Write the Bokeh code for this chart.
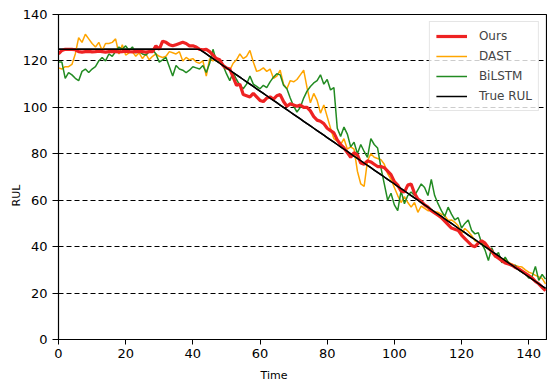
from bokeh.plotting import figure
from bokeh.models import Legend, LegendItem, Title, Range1d, FixedTicker
from bokeh.embed import file_html
from bokeh.resources import INLINE

time = list(range(0, 146))

true_rul = [min(125, 167 - t) for t in time]

ours = [123, 124.5, 125, 125, 125, 124.8, 124, 123.8, 124, 124.1,
        123.9, 124, 124.2, 124, 123.8, 124, 124.1, 124, 123.9, 124,
        124.2, 124, 123.9, 124, 124.1, 124, 123.8, 124, 124, 126.5,
        125, 128.5, 128, 127, 126.5, 127, 127.5, 128, 127.5, 126.5,
        126.5, 126, 125, 124.8, 125, 124, 122.5, 121, 120.5, 118,
        117, 116.5, 113, 109.5, 110, 105.5, 105, 104.5, 106, 104.5,
        103, 102.5, 104, 104.5, 103.5, 105, 105.5, 102.5, 100.5, 101.5,
        101, 100.5, 101, 100, 100, 98.5, 96, 94.5, 94, 93,
        91, 90, 89, 86, 84, 82.5, 80.5, 78.5, 80.5, 79.5,
        76, 75.5, 77, 76.5, 75.5, 74.5, 74.5, 74, 72.5, 71,
        68, 66.5, 64, 63.5, 66.5, 67, 63, 60.5, 59.5, 58,
        57, 55.5, 54.5, 53.5, 52.5, 51, 49.5, 48, 47.5, 47,
        45, 43.5, 42, 40.5, 40, 41.5, 42.5, 41.5, 39.5, 38,
        36, 35, 34, 33, 32.5, 32, 31, 30.5, 29.5, 28.5,
        27.5, 26.5, 25, 24, 22.5, 21]

dast = [117, 116.5, 117.5, 117.5, 118.5, 123, 130, 128, 131.5, 129.5,
        127.5, 126, 128, 124.5, 127.5, 127.5, 128, 129.5, 123, 127,
        122.5, 123.5, 124, 122, 123.5, 121, 123, 120.5, 122, 123,
        122, 121.5, 122, 124, 123.5, 123, 124, 120, 121.5, 120.5,
        121, 119.5, 119, 120, 113.5, 121, 120, 121.5, 119, 118.5,
        117, 116, 119, 120.5, 123, 121, 122, 124.5, 119.5, 115.5,
        116, 117, 115.5, 116.5, 112.5, 113.5, 116, 110, 108, 111.5,
        111, 112, 114, 116, 108.5, 102, 106, 103, 97.5, 101,
        96, 91, 86.5, 85.5, 84, 86.5, 82, 83, 82, 72.5,
        67, 66, 77, 80, 78.5, 78, 77.5, 75.5, 71.5, 69,
        65.5, 62, 59, 61.5, 59, 57, 59, 54.8, 57.5, 56.5,
        55.5, 55.5, 55, 54.8, 54, 53.4, 51.3, 51.5, 50.5, 49,
        45.7, 47.8, 46.5, 44.8, 42.5, 41.9, 41.9, 40.5, 39.5, 37.6,
        35.5, 35.5, 34.9, 34.5, 33.3, 32.5, 31.9, 31.5, 31.2, 30,
        29, 28.5, 27.6, 27, 26.3, 24]

bilstm = [119.5, 119.5, 112.5, 115, 114, 112.5, 111.5, 115.5, 116.5, 115,
          116.5, 117.5, 120, 121.5, 120, 123, 122, 124, 126, 125,
          126.5, 124.5, 126, 123.5, 124, 123, 122.5, 124, 125, 123,
          119.5, 120.5, 121.5, 117.5, 113.5, 118, 116.5, 116, 115, 116,
          117.5, 117, 116.5, 118, 115, 119, 125, 120, 119.5, 118,
          114.5, 111.5, 115, 112, 109.5, 108, 110, 113.5, 110, 109,
          108, 109.5, 108.5, 111, 113, 114.5, 114, 109.5, 108, 104,
          100.5, 98, 100, 104, 107, 109, 110.5, 111.5, 114, 110,
          112, 107.5, 108.5, 91, 87.5, 91.5, 88.5, 83, 85, 80,
          84, 81, 78.5, 86.5, 84, 82.5, 74, 67, 60, 63,
          58, 55.5, 64, 58.5, 62, 63.5, 62, 64.5, 67, 65.5,
          62, 69, 62, 58.5, 55.5, 53, 57, 54, 51.5, 52.5,
          48, 50, 51.5, 47, 45.5, 46, 41.5, 38.5, 34, 39.5,
          36, 37.5, 33, 35.5, 33, 31.5, 32, 30, 29, 28.5,
          26.5, 27, 31.5, 25.5, 28, 26]

y_ticks = [0, 20, 40, 60, 80, 100, 120, 140]
x_ticks = [0, 20, 40, 60, 80, 100, 120, 140]

p = figure(width=547, height=387, output_backend="svg", toolbar_location=None,
           x_range=Range1d(0, 145.3), y_range=Range1d(0, 140),
           min_border_left=58, min_border_right=1, min_border_top=14,
           min_border_bottom=48)

p.background_fill_color = "white"
p.border_fill_color = "white"
p.outline_line_color = "black"
p.outline_line_width = 1.2

# grid
p.xgrid.visible = False
p.ygrid.ticker = FixedTicker(ticks=y_ticks)
p.ygrid.grid_line_color = "black"
p.ygrid.grid_line_dash = "5 3"
p.ygrid.grid_line_width = 1.2

for ax, ticks in ((p.xaxis[0], x_ticks), (p.yaxis[0], y_ticks)):
    ax.ticker = FixedTicker(ticks=ticks)
    ax.minor_tick_line_color = None
    ax.major_tick_out = 5
    ax.major_tick_in = 0
    ax.major_tick_line_color = "black"
    ax.axis_line_color = "black"
    ax.major_label_text_font = "DejaVu Sans"
    ax.major_label_text_font_size = "13px"
    ax.major_label_text_color = "black"

p.yaxis[0].major_tick_out = 6
p.yaxis[0].major_label_standoff = 5
p.xaxis[0].major_label_standoff = 4

r_true = p.line(time, true_rul, line_color="black", line_width=1.5)
r_dast = p.line(time, dast, line_color="#ffa500", line_width=1.5)
r_bi = p.line(time, bilstm, line_color="#228b22", line_width=1.5)
r_ours = p.line(time, ours, line_color="#ee2222", line_width=3.2)
r_true2 = p.line(time, true_rul, line_color="black", line_width=1.5)

legend = Legend(items=[
    LegendItem(label="Ours", renderers=[r_ours]),
    LegendItem(label="DAST", renderers=[r_dast]),
    LegendItem(label="BiLSTM", renderers=[r_bi]),
    LegendItem(label="True RUL", renderers=[r_true2]),
], location="top_right")
legend.margin = 7
legend.padding = 6
legend.spacing = 4
legend.label_height = 16
legend.glyph_height = 16
legend.glyph_width = 31
legend.label_standoff = 12
legend.label_text_font = "DejaVu Sans"
legend.label_text_font_size = "12px"
legend.border_line_color = "#cccccc"
legend.background_fill_alpha = 0.8
p.add_layout(legend)

p.add_layout(Title(text="Time", align="left", offset=202, text_font="DejaVu Sans",
                   text_font_size="11px", text_font_style="normal",
                   text_color="black", standoff=12), "below")
p.add_layout(Title(text="RUL", align="left", offset=133, text_font="DejaVu Sans",
                   text_font_size="11px", text_font_style="normal",
                   text_color="black", standoff=-6), "left")

open("out.html", "w").write(file_html(p, INLINE))
